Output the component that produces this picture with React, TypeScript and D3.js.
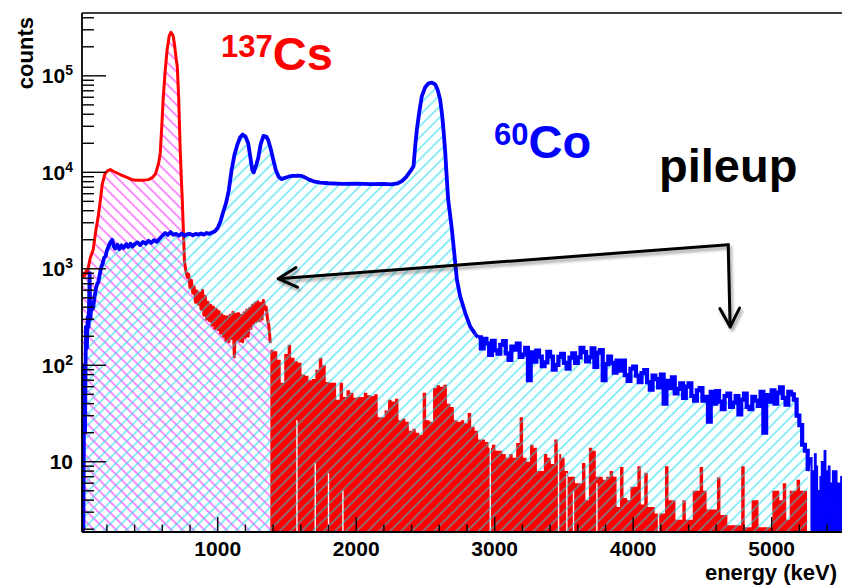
import React from 'react';
import * as d3 from 'd3';

// ---------- data (energy in keV, counts) ----------
// 137Cs spectrum, low-energy part (smooth points)
const csLowE = [20, 30, 40, 50, 58, 65, 80, 101, 120, 137, 150, 166, 185, 202, 224, 250, 296, 340, 390, 430, 462, 500, 527, 550, 563, 575, 585, 595, 606, 620, 635, 650, 662, 672, 679, 690, 700, 708, 718, 729, 738, 744, 752, 760];
const csLowC = [800, 900, 850, 950, 900, 1023, 1300, 1581, 2500, 3475, 4800, 7500, 9600, 10300, 10700, 10200, 9490, 8900, 8300, 8250, 8270, 8400, 8800, 9600, 11000, 12800, 15900, 28000, 57000, 110000, 189000, 260000, 283000, 270000, 257000, 200000, 150000, 125000, 60000, 17250, 8000, 5220, 2500, 1200];
// 137Cs noisy band, 10 keV bins from 770 keV
const csBandStart = 770;
const csBandStep = 10;
const csBandC = [950, 820, 880, 640, 760, 560, 650, 450, 590, 430, 560, 380, 600, 330, 520, 300, 450, 290, 420, 260, 400, 240, 380, 235, 360, 215, 335, 200, 320, 180, 318, 175, 330, 190, 355, 122, 340, 185, 345, 178, 330, 175, 350, 195, 375, 200, 390, 240, 420, 275, 440, 285, 455, 290, 440, 300, 470, 380, 400, 300, 250, 170];
// 137Cs pile-up tail, 25 keV bins from 1380 keV
const csTailStart = 1380;
const csTailStep = 25;
const csTailC = [145, 140, 114, 66, 131, 163, 120, 110, 106, 80, 78, 70, 72, 90, 119, 100, 67, 66, 66, 44, 66, 47, 55, 52, 46, 47, 47, 52, 49, 48, 50, 29, 29, 34, 44, 42, 45, 27, 28, 26, 21, 22, 20, 19, 52, 27, 26, 58, 62, 60, 63, 40, 37, 27, 26, 27, 25, 32, 23, 21, 17, 17, 16, 14, 15, 13, 13, 12, 11, 12, 11, 15.6, 29, 11, 10, 15, 14, 8, 8, 12, 11, 9.5, 17, 12, 11, 8, 7, 7, 6, 6, 9.7, 4, 14, 13, 7, 7, 6.5, 7, 8, 7, 3.4, 8.8, 4.2, 4, 5.5, 5.5, 9, 3.6, 7.7, 3.4, 3.4, 2.9, 2.9, 2.9, 9, 4, 4, 2.5, 2.5, 4, 2.5, 2.5, 5, 5, 8.8, 5, 3.2, 3.2, 3.2, 6.9, 2.8, 2.8, 2.2, 2.2, 2.2, 2.2, 9, 2.1, 2.1, 4, 4, 2.1, 2.1, 2.1, 2.1, 5, 5, 4, 6, 2.5, 5, 5, 6.5, 5, 5];
// empty bins inside the tail (energy, height of the gap)
const csGapE = [1572, 1704, 1800, 1904, 2968, 3461, 3521, 3569, 3738, 4183];
const csGapTop = [27, 9.7, 7.6, 5, 16.8, 12, 7.6, 5, 6, 3.2];

// 60Co spectrum (points)
const coE = [20, 25, 30, 36, 42, 48, 55, 62, 68, 75, 80, 88, 95, 101, 110, 120, 130, 137, 150, 160, 170, 180, 190, 200, 212, 224, 238, 250, 260, 275, 290, 305, 320, 340, 355, 370, 385, 400, 420, 440, 460, 480, 500, 520, 540, 560, 580, 600, 620, 640, 660, 680, 700, 720, 740, 760, 780, 800, 820, 840, 860, 880, 900, 920, 940, 960, 980, 1000, 1020, 1040, 1060, 1080, 1100, 1120, 1140, 1160, 1180, 1200, 1220, 1235, 1250, 1260, 1275, 1292, 1310, 1330, 1350, 1365, 1385, 1401, 1420, 1440, 1460, 1480, 1500, 1520, 1540, 1560, 1580, 1600, 1620, 1640, 1660, 1700, 1740, 1800, 1900, 2000, 2100, 2200, 2250, 2300, 2330, 2360, 2390, 2414, 2426, 2438, 2455, 2474, 2498, 2522, 2547, 2570, 2587, 2606, 2621, 2630, 2643, 2650, 2664, 2691, 2715, 2727, 2751, 2787, 2823, 2860];
const coC = [1.5, 15, 2, 100, 20, 250, 150, 320, 250, 900, 300, 420, 380, 400, 500, 620, 700, 720, 900, 1050, 1150, 1300, 1350, 1550, 1700, 1870, 2000, 1700, 1620, 1780, 1600, 1750, 1640, 1800, 1680, 1820, 1700, 1800, 1880, 1760, 1900, 1820, 1950, 1850, 1980, 1900, 2050, 2200, 2350, 2250, 2400, 2250, 2300, 2200, 2320, 2200, 2280, 2300, 2220, 2300, 2260, 2320, 2260, 2350, 2300, 2380, 2450, 2650, 3100, 3900, 4800, 6500, 10500, 15000, 19000, 22800, 24600, 23500, 20000, 14500, 10500, 10000, 11500, 14000, 19500, 23800, 23500, 21500, 17000, 13500, 10500, 9000, 8500, 8700, 8900, 9100, 9200, 9200, 9250, 9200, 9000, 8700, 8400, 8000, 7800, 7700, 7600, 7650, 7550, 7600, 7500, 7700, 8100, 8900, 10200, 11570, 18660, 27800, 41800, 61700, 76000, 83600, 84900, 81600, 72400, 57000, 38300, 27800, 15900, 10700, 5220, 2550, 1156, 771, 516, 350, 252, 210];
// 60Co noisy tail, 20 keV bins from 2880 keV
const coTailStart = 2880;
const coTailStep = 20;
const coTailC = [195, 150, 188, 169, 128, 179, 143, 132, 163, 178, 133, 114, 156, 145, 168, 122, 129, 152, 70, 136, 109, 142, 123, 98, 107, 138, 123, 90, 101, 122, 131, 106, 92, 120, 133, 106, 121, 152, 137, 110, 121, 150, 96, 135, 144, 70, 103, 123, 106, 84, 112, 88, 112, 79, 69, 92, 97, 78, 67, 83, 89, 67, 56, 78, 72, 59, 80, 40, 69, 58, 75, 51, 57, 65, 46, 60, 65, 48, 43, 55, 58, 43, 47, 26, 53, 40, 54, 42, 35, 48, 51, 37, 41, 48, 31, 44, 51, 37, 35, 47, 43, 38, 53, 20, 49, 42, 55, 40, 52, 59, 46, 39, 53, 50, 44, 30, 24, 15, 13, 8];
// 60Co end of spectrum, 10 keV bins from 5280 keV
const coEndStart = 5280;
const coEndStep = 10;
const coEndC = [11, 8, 6, 12, 9, 5, 2.5, 7, 10, 6, 13, 8, 4, 9, 3, 6, 8, 5, 8, 0, 6, 4, 7, 5, 6];

// axis ticks
const xMajorTicks = [1000, 2000, 3000, 4000, 5000];
const yMajorTicks = [10, 100, 1000, 10000, 100000];
const yTickExp = ['', '2', '3', '4', '5'];

// annotation (pile-up arrows) in data coordinates
const arrowCorner: [number, number] = [4686, 1780];
const arrowLeftTip: [number, number] = [1437, 789];
const arrowDownTip: [number, number] = [4700, 250];

const FONT = "'Liberation Sans', Arial, Helvetica, sans-serif";

export default function App() {
  const W = 842, H = 586;
  const L = 82, R = 843, T = 13, B = 532;
  const x = d3.scaleLinear().domain([20, 5515]).range([L, R]);
  const y = d3.scaleLog().domain([1.87, 4.48e5]).range([B, T]);
  const yv = (v: number) => y(Math.max(v, 0.3));

  type P = [number, number];
  const csPts: P[] = [
    ...csLowE.map((e, i) => [e, csLowC[i]] as P),
    ...csBandC.map((c, k) => [csBandStart + k * csBandStep, c] as P),
  ];
  const coPts: P[] = coE.map((e, i) => [e, coC[i]] as P);
  const coTailPts: P[] = coTailC.map((c, k) => [coTailStart + k * coTailStep, c] as P);
  const coEndPts: P[] = coEndC.map((c, k) => [coEndStart + k * coEndStep, c] as P);
  coEndPts.push([coEndStart + coEndC.length * coEndStep, coEndC[coEndC.length - 1]]);
  const coAll: P[] = [...coPts, ...coTailPts];
  const tailPts: P[] = csTailC.map((c, i) => [csTailStart + i * csTailStep, c] as P);
  tailPts.push([csTailStart + csTailC.length * csTailStep, csTailC[csTailC.length - 1]]);

  const line = d3.line<P>().x(d => x(d[0])).y(d => yv(d[1]));
  const area = d3.area<P>().x(d => x(d[0])).y0(B).y1(d => yv(d[1]));
  const stepArea = d3.area<P>().x(d => x(d[0])).y0(B).y1(d => yv(d[1])).curve(d3.curveStepAfter);
  const stepLine = d3.line<P>().x(d => x(d[0])).y(d => yv(d[1])).curve(d3.curveStepAfter);

  const xMinor = d3.range(200, 5501, 200).filter(v => !xMajorTicks.includes(v));
  const yMinor: number[] = [];
  for (let k = 0; k <= 5; k++) for (let m = 2; m <= 9; m++) {
    const v = m * Math.pow(10, k);
    if (v > 1.87 && v < 4.48e5) yMinor.push(v);
  }

  const head = (tip: P, from: P, len = 21, ang = 28) => {
    const tx = x(tip[0]), ty = y(tip[1]);
    const fx = x(from[0]), fy = y(from[1]);
    const a = Math.atan2(fy - ty, fx - tx);
    const r = (ang * Math.PI) / 180;
    const p1 = [tx + len * Math.cos(a + r), ty + len * Math.sin(a + r)];
    const p2 = [tx + len * Math.cos(a - r), ty + len * Math.sin(a - r)];
    return `M${p1[0]},${p1[1]}L${tx},${ty}L${p2[0]},${p2[1]}`;
  };

  const lastCo = coPts[coPts.length - 1];
  const firstTail = coTailPts[0];
  const lastTail = coTailPts[coTailPts.length - 1];

  return (
    <svg width={W} height={H} style={{ position: 'absolute', left: 0, top: 0, display: 'block', background: '#fff' }}>
      <defs>
        <clipPath id="plotClip">
          <rect x={L} y={T} width={R - L} height={B - T} />
        </clipPath>
        <pattern id="hatchM" patternUnits="userSpaceOnUse" width={7.8} height={7.8} patternTransform="rotate(-45)">
          <line x1={3.9} y1={0} x2={3.9} y2={7.8} stroke="#ff00ff" strokeWidth={1.1} strokeOpacity={0.8} />
        </pattern>
        <pattern id="hatchC" patternUnits="userSpaceOnUse" width={7.8} height={7.8} patternTransform="rotate(45)">
          <line x1={3.9} y1={0} x2={3.9} y2={7.8} stroke="#10dcec" strokeWidth={1.2} strokeOpacity={0.8} />
        </pattern>
        <filter id="shadow" x="-10%" y="-30%" width="120%" height="160%">
          <feDropShadow dx={2} dy={3} stdDeviation={1.6} floodColor="#000" floodOpacity={0.35} />
        </filter>
      </defs>
      <rect x={0} y={0} width={W} height={H} fill="#fff" />

      <g clipPath="url(#plotClip)">
        {/* 137Cs */}
        <path d={area(csPts) || ''} fill="url(#hatchM)" />
        <path d={stepArea(tailPts) || ''} fill="#ff0000" />
        {csGapE.map((e, i) => (
          <line key={i} x1={x(e)} x2={x(e)} y1={B} y2={yv(csGapTop[i])} stroke="#fff" strokeWidth={1.4} />
        ))}
        <path d={line(csPts) || ''} fill="none" stroke="#ff0000" strokeWidth={3} strokeLinejoin="round" />
        {/* 60Co */}
        <path d={area(coAll) || ''} fill="url(#hatchC)" />
        <path d={stepArea(coEndPts) || ''} fill="#0000ff" />
        <path d={line(coPts) || ''} fill="none" stroke="#0000ff" strokeWidth={3.8} strokeLinejoin="round" />
        <path d={line([lastCo, firstTail]) || ''} fill="none" stroke="#0000ff" strokeWidth={3.8} />
        <path d={stepLine(coTailPts) || ''} fill="none" stroke="#0000ff" strokeWidth={4.2} />
        <path d={line([lastTail, coEndPts[0]]) || ''} fill="none" stroke="#0000ff" strokeWidth={3} />
        <path d={stepLine(coEndPts) || ''} fill="none" stroke="#0000ff" strokeWidth={1.5} />
      </g>

      {/* frame */}
      <g stroke="#000" fill="none">
        <line x1={L} x2={R} y1={T} y2={T} strokeWidth={1.6} />
        <line x1={L} x2={L} y1={T} y2={B} strokeWidth={1.8} />
        <line x1={L} x2={R} y1={B} y2={B} strokeWidth={1.8} />
        {xMajorTicks.map(v => <line key={'xM' + v} x1={x(v)} x2={x(v)} y1={B} y2={B - 15} strokeWidth={1.4} />)}
        {xMinor.map(v => <line key={'xm' + v} x1={x(v)} x2={x(v)} y1={B} y2={B - 7.5} strokeWidth={1.4} />)}
        {yMajorTicks.map(v => <line key={'yM' + v} x1={L} x2={L + 24} y1={y(v)} y2={y(v)} strokeWidth={1.4} />)}
        {yMinor.map(v => <line key={'ym' + v} x1={L} x2={L + 12} y1={y(v)} y2={y(v)} strokeWidth={1.4} />)}
      </g>

      {/* tick labels */}
      <g fontFamily={FONT} fontWeight="bold" fill="#000">
        {xMajorTicks.map(v => (
          <text key={'xl' + v} x={x(v)} y={556} fontSize={21} textAnchor="middle">{v}</text>
        ))}
        {yMajorTicks.map((v, i) => (
          <text key={'yl' + v} x={73} y={y(v) + 7.5} fontSize={21} textAnchor="end">
            10{yTickExp[i] && <tspan fontSize={14} dy={-8}>{yTickExp[i]}</tspan>}
          </text>
        ))}
        <text x={837} y={580} fontSize={22} textAnchor="end">energy (keV)</text>
        <text transform="translate(33,17) rotate(-90)" fontSize={22} textAnchor="end">counts</text>
      </g>

      {/* labels */}
      <g fontFamily={FONT} fontWeight="bold">
        <text x={221} y={70} fill="#ff0000">
          <tspan fontSize={31} dy={-13}>137</tspan>
          <tspan fontSize={47} dy={13}>Cs</tspan>
        </text>
        <text x={494} y={158} fill="#0000ff">
          <tspan fontSize={31} dy={-13}>60</tspan>
          <tspan fontSize={47} dy={13}>Co</tspan>
        </text>
        <text x={659} y={182} fontSize={47} fill="#000">pileup</text>
      </g>

      {/* arrows */}
      <g stroke="#000" strokeWidth={3} fill="none" strokeLinecap="round" strokeLinejoin="round" filter="url(#shadow)">
        <path d={`M${x(arrowCorner[0])},${y(arrowCorner[1])}L${x(arrowLeftTip[0])},${y(arrowLeftTip[1])}`} />
        <path d={head(arrowLeftTip, arrowCorner)} />
        <path d={`M${x(arrowCorner[0])},${y(arrowCorner[1])}L${x(arrowDownTip[0])},${y(arrowDownTip[1])}`} />
        <path d={head(arrowDownTip, arrowCorner)} />
      </g>
    </svg>
  );
}
